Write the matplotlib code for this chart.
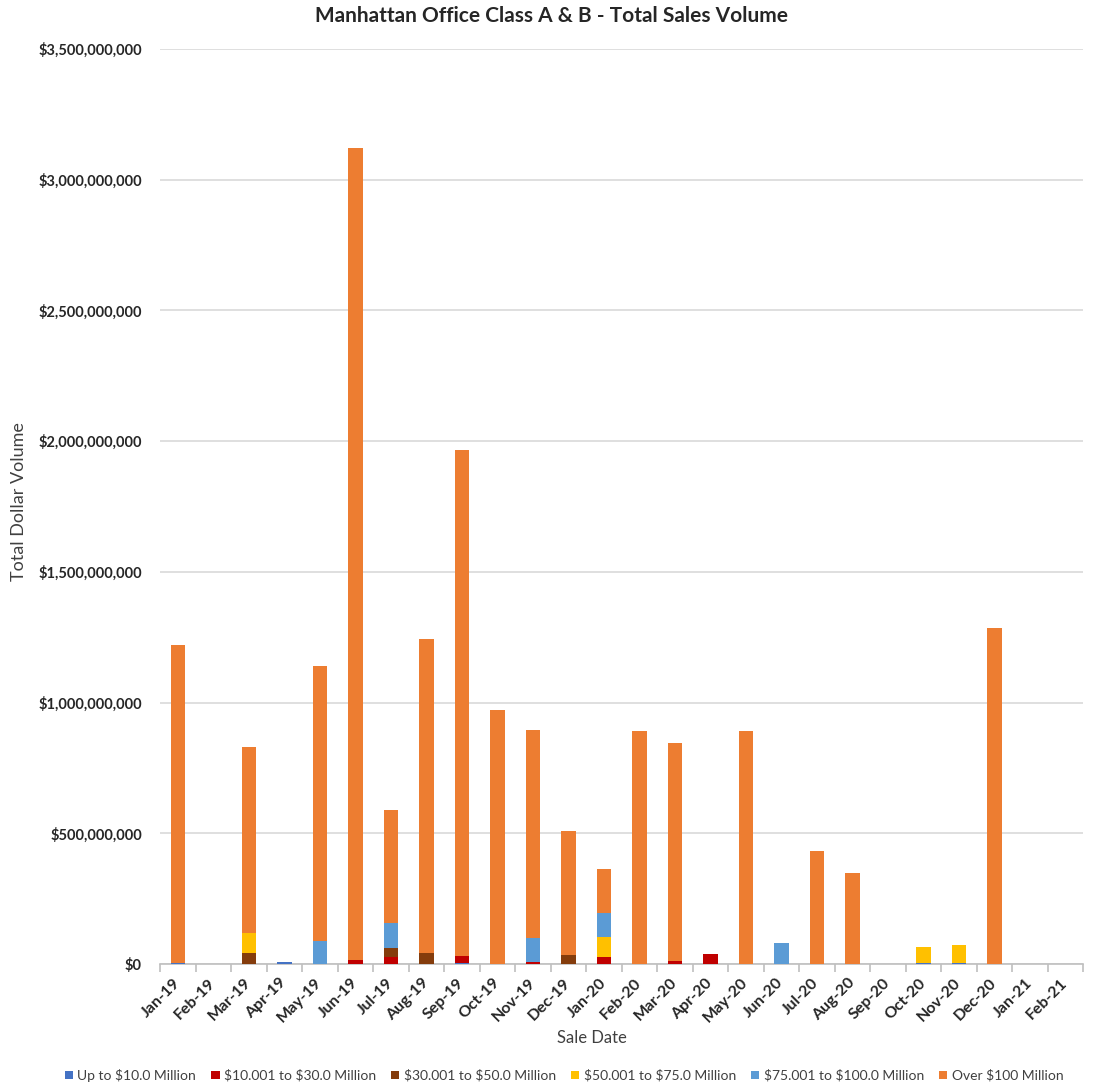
import numpy as np
import matplotlib
matplotlib.use("Agg")
from matplotlib import pyplot as plt
from matplotlib.ticker import FuncFormatter, FixedLocator
from matplotlib.transforms import ScaledTranslation

plt.rcParams['font.family'] = ['Lato', 'DejaVu Sans']

months = ['Jan-19', 'Feb-19', 'Mar-19', 'Apr-19', 'May-19', 'Jun-19', 'Jul-19', 'Aug-19',
          'Sep-19', 'Oct-19', 'Nov-19', 'Dec-19', 'Jan-20', 'Feb-20', 'Mar-20', 'Apr-20',
          'May-20', 'Jun-20', 'Jul-20', 'Aug-20', 'Sep-20', 'Oct-20', 'Nov-20', 'Dec-20',
          'Jan-21', 'Feb-21']

# values in millions of dollars
up_to_10 = [4, 0, 0, 7, 0, 0, 0, 0, 5, 0, 0, 0, 0, 0, 0, 0,
            0, 0, 0, 0, 0, 5, 4, 0, 0, 0]
m10_30 = [0, 0, 0, 0, 0, 15, 28, 0, 24, 0, 9, 0, 28, 0, 12, 38,
          0, 0, 0, 0, 0, 0, 0, 0, 0, 0]
m30_50 = [0, 0, 41, 0, 0, 0, 32, 41, 0, 0, 0, 34, 0, 0, 0, 0,
          0, 0, 0, 0, 0, 0, 0, 0, 0, 0]
m50_75 = [0, 0, 76, 0, 0, 0, 0, 0, 0, 0, 0, 0, 74, 0, 0, 0,
          0, 0, 0, 0, 0, 61, 70, 0, 0, 0]
m75_100 = [0, 0, 0, 0, 88, 0, 98, 0, 0, 0, 89, 0, 92, 0, 0, 0,
           0, 79, 0, 0, 0, 0, 0, 0, 0, 0]
over_100 = [1217, 0, 712, 0, 1052, 3105, 430, 1204, 1936, 973, 796, 474, 171, 890, 835, 0,
            890, 0, 431, 348, 0, 0, 0, 1284, 0, 0]

series = [
    (r'Up to \$10.0 Million', up_to_10, '#4472C4'),
    (r'\$10.001 to \$30.0 Million', m10_30, '#C00000'),
    (r'\$30.001 to \$50.0 Million', m30_50, '#843C0C'),
    (r'\$50.001 to \$75.0 Million', m50_75, '#FFC000'),
    (r'\$75.001 to \$100.0 Million', m75_100, '#5B9BD5'),
    (r'Over \$100 Million', over_100, '#ED7D31'),
]

fig = plt.figure(figsize=(10.94, 10.84), dpi=100)
ax = fig.add_axes([0.1463, 0.1107, 0.8437, 0.8441])

x = np.arange(len(months))
bottom = np.zeros(len(months))
for name, vals, col in series:
    v = np.array(vals, dtype=float) * 1e6
    ax.bar(x, v, 0.41, bottom=bottom, color=col, label=name, zorder=3)
    bottom += v

ax.set_xlim(-0.5, len(months) - 0.5)
ax.set_ylim(0, 3.5e9)
ax.set_yticks(np.arange(0, 3.5e9 + 1, 5e8))
ax.yaxis.set_major_formatter(FuncFormatter(lambda v, p: '${:,.0f}'.format(v)))
ax.grid(axis='y', color='#D9D9D9', linewidth=1.2, zorder=0)
for s in ['top', 'right', 'left']:
    ax.spines[s].set_visible(False)
ax.spines['bottom'].set_color('#BFBFBF')
ax.spines['bottom'].set_linewidth(1.2)

ax.set_xticks(x)
ax.set_xticklabels(months, rotation=45, ha='right', va='center', rotation_mode='anchor',
                   fontsize=11.5, fontweight='bold', color='#262626')
shift = ScaledTranslation(6 / 100, 0, fig.dpi_scale_trans)
for lab in ax.get_xticklabels():
    lab.set_transform(lab.get_transform() + shift)
ax.xaxis.set_minor_locator(FixedLocator(np.arange(-0.5, len(months), 1.0)))
ax.tick_params(axis='x', which='major', length=0, pad=12)
ax.tick_params(axis='x', which='minor', length=6, color='#BFBFBF', width=1.2)
ax.tick_params(axis='y', length=0, pad=13)
for lab in ax.get_yticklabels():
    lab.set_fontweight('bold')
    lab.set_fontsize(10.5)
    lab.set_color('#262626')

fig.text(0.504, 0.985, 'Manhattan Office Class A & B - Total Sales Volume', ha='center',
         va='center', fontsize=15, fontweight='bold', color='#262626')
fig.text(0.017, 0.537, 'Total Dollar Volume', rotation=90, ha='center', va='center',
         fontsize=13, color='#404040')
fig.text(0.541, 0.042, 'Sale Date', ha='center', va='center', fontsize=12, color='#404040')

fig.legend(loc='center', bbox_to_anchor=(0.5155, 0.008), ncol=6, frameon=False,
           fontsize=10, handlelength=0.6, handleheight=0.6, handletextpad=0.3,
           columnspacing=1.1, labelcolor='#404040')

fig.savefig('out.png', dpi=100)
